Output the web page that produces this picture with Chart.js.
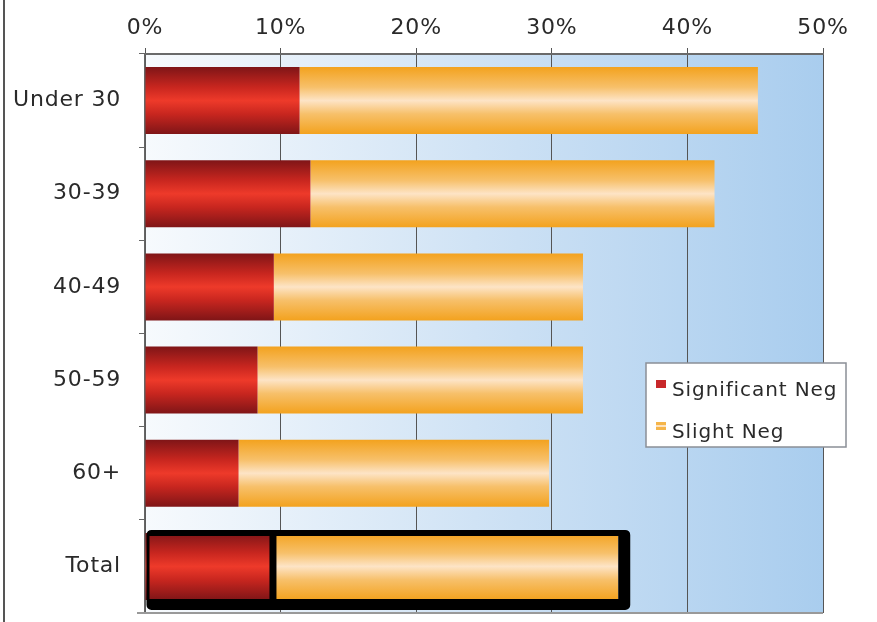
<!DOCTYPE html>
<html>
<head>
<meta charset="utf-8">
<script src="https://cdn.jsdelivr.net/npm/chart.js@4"></script>
<style>
  html, body { margin: 0; padding: 0; background: #fff; }
  #wrap { width: 877px; height: 622px; position: relative; }
</style>
</head>
<body>
<div id="wrap"><canvas id="chart"></canvas></div>
<script>
const categories = ["Under 30", "30-39", "40-49", "50-59", "60+", "Total"];
const significantNeg = [11.4, 12.2, 9.5, 8.3, 6.9, 9.4];
const slightNeg = [33.8, 29.8, 22.8, 24.0, 22.9, 25.5];
const xTickValues = [0, 10, 20, 30, 40, 50];
const seriesLabels = ["Significant Neg", "Slight Neg"];

const FONT = "'DejaVu Sans', Verdana, sans-serif";
const BAR_PCT = 0.72;

// gradient verticale par barre (effet cylindre)
function barGradient(ctx, stops) {
  const chart = ctx.chart;
  const area = chart.chartArea;
  if (!area || !chart.scales.y) return stops[2][1];
  const c = chart.scales.y.getPixelForValue(ctx.dataIndex);
  const half = (area.height / categories.length) * BAR_PCT / 2;
  const g = chart.ctx.createLinearGradient(0, c - half, 0, c + half);
  stops.forEach(s => g.addColorStop(s[0], s[1]));
  return g;
}

const redStops = [[0, "#7f1517"], [0.3, "#c8261f"], [0.5, "#ee3a2a"], [0.7, "#c8261f"], [1, "#7f1517"]];
const orangeStops = [[0, "#f3a21e"], [0.3, "#f7c06a"], [0.5, "#fde4c6"], [0.7, "#f7c06a"], [1, "#f3a21e"]];

const spacing = {
  id: "spacing",
  beforeUpdate(chart) { chart.ctx.letterSpacing = "0.8px"; },
  beforeDraw(chart) { chart.ctx.letterSpacing = "0.8px"; }
};

const decor = {
  id: "decor",
  beforeDraw(chart) {
    const { ctx, chartArea: a } = chart;
    ctx.save();
    const g = ctx.createLinearGradient(a.left, 0, a.right, 0);
    g.addColorStop(0, "#f7fafd");
    g.addColorStop(0.55, "#cbe0f4");
    g.addColorStop(1, "#a9cdee");
    ctx.fillStyle = g;
    ctx.fillRect(a.left, a.top, a.right - a.left, a.bottom - a.top);
    ctx.restore();
  },
  afterDatasetsDraw(chart) {
    const { ctx, chartArea: a } = chart;
    const i = categories.length - 1;
    const red = chart.getDatasetMeta(0).data[i];
    const org = chart.getDatasetMeta(1).data[i];
    const top = red.y - red.height / 2;
    const bot = red.y + red.height / 2;
    // cadre noir du Total
    ctx.save();
    ctx.fillStyle = "#000";
    ctx.beginPath();
    ctx.roundRect(red.base + 1, top - 3, org.x + 12 - red.base - 1, bot + 10 - (top - 3), 5);
    ctx.rect(red.base + 4, top + 3, red.x - 3 - red.base - 4, bot - 1 - top - 3);
    ctx.rect(red.x + 4, top + 3, org.x - red.x - 4, bot - 1 - top - 3);
    ctx.fill("evenodd");
    // ligne du bas
    ctx.strokeStyle = "#999";
    ctx.lineWidth = 2;
    ctx.beginPath();
    ctx.moveTo(a.left - 8, a.bottom);
    ctx.lineTo(a.right, a.bottom);
    ctx.stroke();
    ctx.restore();
  },
  afterDraw(chart) {
    const { ctx } = chart;
    ctx.save();
    // bord gauche de l'image
    ctx.strokeStyle = "#555";
    ctx.lineWidth = 2;
    ctx.beginPath();
    ctx.moveTo(4, 0);
    ctx.lineTo(4, chart.height);
    ctx.stroke();

    // légende
    const bx = 646, by = 363, bw = 200, bh = 84;
    ctx.fillStyle = "#fff";
    ctx.fillRect(bx, by, bw, bh);
    ctx.strokeStyle = "#8a8f96";
    ctx.lineWidth = 1.5;
    ctx.strokeRect(bx, by, bw, bh);
    const cols = ["#c8282a", "#f5b54a"];
    ctx.font = "20px " + FONT;
    ctx.letterSpacing = "0.9px";
    ctx.textBaseline = "middle";
    seriesLabels.forEach((lab, k) => {
      const y = by + 27 + k * 42;
      ctx.fillStyle = cols[k];
      ctx.fillRect(bx + 10, y - 10, 10, 8);
      if (k === 1) {
        ctx.fillStyle = "#fce2c0";
        ctx.fillRect(bx + 10, y - 7, 10, 2);
      }
      ctx.fillStyle = "#2a2a2a";
      ctx.fillText(lab, bx + 26, y + 1);
    });
    ctx.restore();
  }
};

new Chart(document.getElementById("chart"), {
  type: "bar",
  data: {
    labels: categories,
    datasets: [
      {
        label: seriesLabels[0],
        data: significantNeg,
        backgroundColor: c => barGradient(c, redStops),
        borderWidth: 0
      },
      {
        label: seriesLabels[1],
        data: slightNeg,
        backgroundColor: c => barGradient(c, orangeStops),
        borderWidth: 0
      }
    ]
  },
  options: {
    indexAxis: "y",
    responsive: true,
    maintainAspectRatio: false,
    animation: false,
    barPercentage: BAR_PCT,
    categoryPercentage: 1,
    layout: { padding: { left: 0, right: 54, top: 0, bottom: 9 } },
    plugins: { legend: { display: false }, tooltip: { enabled: false } },
    scales: {
      x: {
        position: "top",
        stacked: true,
        min: 0,
        max: 50,
        afterBuildTicks: s => { s.ticks = xTickValues.map(v => ({ value: v })); },
        afterFit: s => { s.height = 54; },
        ticks: {
          callback: v => v + "%",
          font: { family: FONT, size: 22 },
          color: "#2a2a2a",
          padding: 7,
          maxRotation: 0
        },
        grid: { color: "#555", lineWidth: 1, tickLength: 6 },
        border: { display: true, color: "#6a6a6a", width: 2 }
      },
      y: {
        stacked: true,
        afterFit: s => { s.width = 145; s.paddingTop = 0; s.paddingBottom = 0; },
        ticks: {
          font: { family: FONT, size: 22 },
          color: "#2a2a2a",
          padding: 18
        },
        grid: { offset: true, drawOnChartArea: false, tickLength: 6, color: "#666" },
        border: { display: true, color: "#666", width: 1.5 }
      }
    }
  },
  plugins: [spacing, decor]
});
</script>
</body>
</html>
